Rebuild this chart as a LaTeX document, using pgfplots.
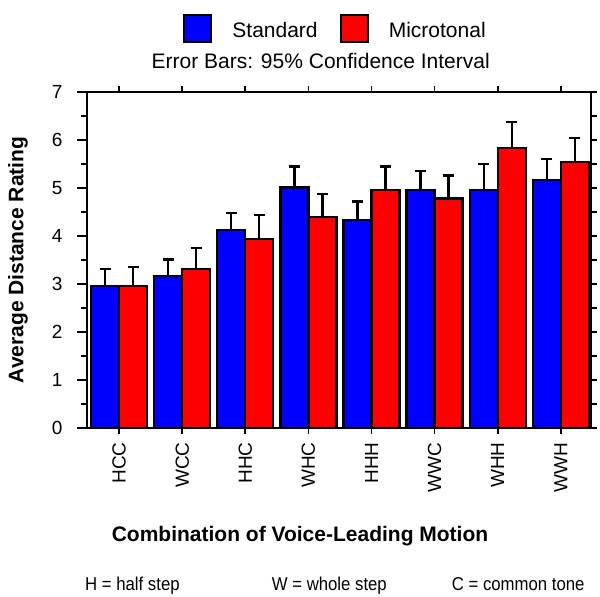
\documentclass[border=0pt]{standalone}
\usepackage{fontspec}
\setmainfont{Liberation Sans}
\usepackage{graphicx}
\usepackage{pgfplots}
\pgfplotsset{compat=1.18}
\definecolor{barblue}{RGB}{0,0,255}
\definecolor{barred}{RGB}{255,0,0}
\newcommand{\ticksize}{\fontsize{19bp}{22bp}\selectfont}
\newcommand{\mainsize}{\fontsize{21bp}{25bp}\selectfont}
\begin{document}
\begin{tikzpicture}
\useasboundingbox (0bp,0bp) rectangle (600bp,-597bp);
% left y axis with tick labels and label
\begin{axis}[
  at={(87bp,-428bp)}, anchor=south west,
  width=504bp, height=336bp, scale only axis,
  xmin=-0.51, xmax=7.48, ymin=0, ymax=7,
  axis x line=none, axis y line*=left,
  ytick={0,...,7}, minor y tick num=1,
  tick align=outside,
  major tick length=10bp, minor tick length=6bp,
  axis line style={line width=2.2bp, black},
  tick style={line width=1.8bp, black},
  yticklabel style={font=\ticksize, xshift=-11bp},
  /pgf/number format/assume math mode=true,
  ylabel={\bfseries Average Distance Rating},
  ylabel style={at={(axis description cs:-0.137,0.5)}, anchor=center, font=\mainsize},
]
\addplot[draw=none] coordinates {(0,0)};
\end{axis}
% main axis with data
\begin{axis}[
  at={(87bp,-428bp)}, anchor=south west,
  width=504bp, height=336bp, scale only axis,
  xmin=-0.51, xmax=7.48, ymin=0, ymax=7,
  ybar, bar width=28bp,
  xtick={0,...,7},
  xticklabels={HCC,WCC,HHC,WHC,HHH,WWC,WHH,WWH},
  xticklabel style={rotate=90, anchor=east, font=\ticksize, xshift=-5bp},
  ytick={0,...,7}, yticklabels={}, minor y tick num=1,
  xtick pos=both, ytick pos=both, tick align=outside,
  major tick length=6bp, minor tick length=6bp,
  axis line style={line width=2.2bp, black},
  tick style={line width=1.8bp, black},
  xlabel={\bfseries Combination of Voice-Leading Motion},
  xlabel style={at={(axis description cs:0.4226,-0.321)}, anchor=center, font=\mainsize},
  legend columns=2,
  legend image code/.code={\draw[#1] (0bp,-11.5bp) rectangle (27bp,15.5bp);},
  legend style={at={(axis description cs:0.1905,1.19)}, anchor=west, draw=none, fill=none,
    inner sep=0pt, font=\mainsize,
    /tikz/every odd column/.append style={column sep=18bp},
    /tikz/every even column/.append style={column sep=20bp}},
]
\addplot[draw=black, line width=2.2bp, fill=barblue, bar shift=-14bp,
  error bars/.cd, y dir=plus, y explicit,
  error bar style={line width=2.2bp, black},
  error mark options={rotate=90, line width=2.2bp, mark size=5.5bp, black}]
coordinates {
 (0,2.96) +- (0,0.35)
 (1,3.16) +- (0,0.35)
 (2,4.13) +- (0,0.35)
 (3,5.01) +- (0,0.44)
 (4,4.33) +- (0,0.39)
 (5,4.96) +- (0,0.40)
 (6,4.96) +- (0,0.54)
 (7,5.17) +- (0,0.43)
};
\addlegendentry{Standard}
\addplot[draw=black, line width=2.2bp, fill=barred, bar shift=14bp,
  error bars/.cd, y dir=plus, y explicit,
  error bar style={line width=2.2bp, black},
  error mark options={rotate=90, line width=2.2bp, mark size=5.5bp, black}]
coordinates {
 (0,2.96) +- (0,0.40)
 (1,3.31) +- (0,0.44)
 (2,3.94) +- (0,0.49)
 (3,4.39) +- (0,0.48)
 (4,4.96) +- (0,0.49)
 (5,4.78) +- (0,0.48)
 (6,5.84) +- (0,0.53)
 (7,5.55) +- (0,0.49)
};
\addlegendentry{Microtonal}
\end{axis}
\node[anchor=base west, inner sep=0] at (151.5bp,-68.3bp) {\mainsize Error Bars: 95\% Confidence Interval};
\node[anchor=base west, inner sep=0] at (85bp,-590bp) {\scalebox{0.9}[1]{\fontsize{18.6bp}{22bp}\selectfont H = half step}};
\node[anchor=base west, inner sep=0] at (271.7bp,-590bp) {\scalebox{0.9}[1]{\fontsize{18.6bp}{22bp}\selectfont W = whole step}};
\node[anchor=base west, inner sep=0] at (451.7bp,-590bp) {\scalebox{0.9}[1]{\fontsize{18.6bp}{22bp}\selectfont C = common tone}};
\end{tikzpicture}
\end{document}
